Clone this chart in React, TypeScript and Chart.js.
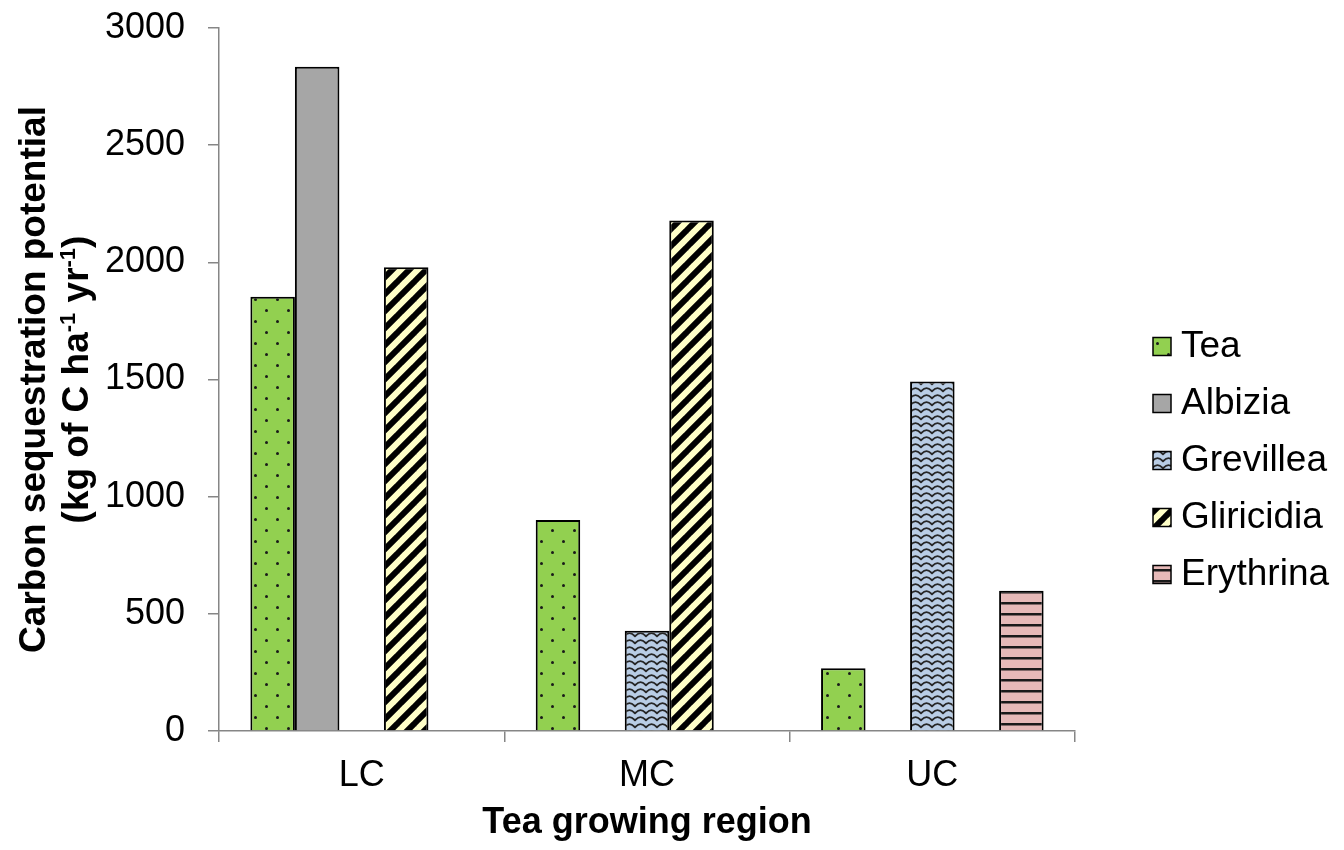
import { useEffect, useRef } from "react";
import { Chart, registerables } from "chart.js";

Chart.register(...registerables);

// Regions on the x axis and the carbon sequestration values (kg C / ha / yr) per shade species
const regions = ["LC", "MC", "UC"];
const seriesNames = ["Tea", "Albizia", "Grevillea", "Gliricidia", "Erythrina"];
const teaValues = [1853, 900, 268];
const albiziaValues = [2835, null, null];
const grevilleaValues = [null, 428, 1491];
const gliricidiaValues = [1979, 2178, null];
const erythrinaValues = [null, null, 598];
const yTickValues = [0, 500, 1000, 1500, 2000, 2500, 3000];

const FONT = "'Liberation Sans', Arial, Helvetica, sans-serif";
const AXIS_GREY = "#868686";

type Draw = (g: CanvasRenderingContext2D, w: number, h: number) => void;

function tile(w: number, h: number, draw: Draw): HTMLCanvasElement {
  const c = document.createElement("canvas");
  c.width = w;
  c.height = h;
  const g = c.getContext("2d") as CanvasRenderingContext2D;
  draw(g, w, h);
  return c;
}

function makePatterns(ctx: CanvasRenderingContext2D) {
  // green with staggered black dots
  const dots = tile(22, 22, (g, w, h) => {
    g.fillStyle = "#92D050";
    g.fillRect(0, 0, w, h);
    g.fillStyle = "#1a1a1a";
    for (const [x, y] of [[5.5, 5.5], [16.5, 16.5]]) {
      g.beginPath();
      g.arc(x, y, 1.5, 0, Math.PI * 2);
      g.fill();
    }
  });
  // light blue with dark zigzag waves
  const waves = tile(11, 7, (g, w, h) => {
    g.fillStyle = "#B9CDE5";
    g.fillRect(0, 0, w, h);
    g.strokeStyle = "#262626";
    g.lineWidth = 1.7;
    g.lineJoin = "round";
    g.beginPath();
    g.moveTo(-3, 5.8);
    g.lineTo(0, 5.4);
    g.quadraticCurveTo(5.5, -1.2, 11, 5.4);
    g.lineTo(14, 5.8);
    g.stroke();
  });
  // pale yellow with wide black "/" stripes
  const stripes = tile(17, 17, (g, w) => {
    g.fillStyle = "#FFFFC8";
    g.fillRect(0, 0, w, w);
    g.strokeStyle = "#000";
    g.lineWidth = 6;
    for (const k of [0, 1, 2]) {
      const c = k * w;
      g.beginPath();
      g.moveTo(c - w - 2, w + 2);
      g.lineTo(c + 2, -2);
      g.stroke();
    }
  });
  // pink with black horizontal lines
  const lines = tile(4, 11, (g, w, h) => {
    g.fillStyle = "#E6B9B8";
    g.fillRect(0, 0, w, h);
    g.fillStyle = "#1a1a1a";
    g.fillRect(0, 0, w, 2.5);
  });
  return {
    tea: ctx.createPattern(dots, "repeat") as CanvasPattern,
    albizia: "#A6A6A6",
    grevillea: ctx.createPattern(waves, "repeat") as CanvasPattern,
    gliricidia: ctx.createPattern(stripes, "repeat") as CanvasPattern,
    erythrina: ctx.createPattern(lines, "repeat") as CanvasPattern,
  };
}

// Two-line rotated y-axis title with superscripts
const yTitlePlugin = {
  id: "yTitle",
  afterDraw(chart: Chart) {
    const { ctx, chartArea } = chart;
    const cy = (chartArea.top + chartArea.bottom) / 2;
    ctx.save();
    ctx.fillStyle = "#000";
    ctx.textBaseline = "alphabetic";
    const big = `bold 37px ${FONT}`;
    const small = `bold 22px ${FONT}`;
    // first line
    ctx.save();
    ctx.translate(37, cy);
    ctx.rotate(-Math.PI / 2);
    ctx.font = big;
    ctx.textAlign = "center";
    ctx.fillText("Carbon sequestration potential", 0, 0);
    ctx.restore();
    // second line, with superscripts
    const parts: [string, boolean][] = [
      ["(kg of C ha", false],
      ["-1", true],
      [" yr", false],
      ["-1", true],
      [")", false],
    ];
    let total = 0;
    const widths = parts.map(([t, sup]) => {
      ctx.font = sup ? small : big;
      const w = ctx.measureText(t).width;
      total += w;
      return w;
    });
    ctx.save();
    ctx.translate(80, cy);
    ctx.rotate(-Math.PI / 2);
    ctx.textAlign = "left";
    let x = -total / 2;
    parts.forEach(([t, sup], i) => {
      ctx.font = sup ? small : big;
      ctx.fillText(t, x, sup ? -13 : 0);
      x += widths[i];
    });
    ctx.restore();
    ctx.restore();
  },
};

// Legend on the right, built from the datasets
const legendPlugin = {
  id: "sideLegend",
  afterDraw(chart: Chart) {
    const { ctx } = chart;
    ctx.save();
    chart.data.datasets.forEach((ds, i) => {
      const cy = 338.5 + i * 57;
      ctx.fillStyle = ds.backgroundColor as any;
      ctx.fillRect(1145, cy - 9, 18, 18);
      ctx.strokeStyle = "#000";
      ctx.lineWidth = 1.5;
      ctx.strokeRect(1145, cy - 9, 18, 18);
      ctx.fillStyle = "#000";
      ctx.font = `37px ${FONT}`;
      ctx.textAlign = "left";
      ctx.textBaseline = "middle";
      ctx.fillText(String(ds.label), 1173, cy);
    });
    ctx.restore();
  },
};

export default function App() {
  const canvasRef = useRef<HTMLCanvasElement | null>(null);

  useEffect(() => {
    const canvas = canvasRef.current;
    if (!canvas) return;
    const ctx = canvas.getContext("2d") as CanvasRenderingContext2D;
    const p = makePatterns(ctx);
    const fills = [p.tea, p.albizia, p.grevillea, p.gliricidia, p.erythrina];
    const values = [teaValues, albiziaValues, grevilleaValues, gliricidiaValues, erythrinaValues];

    const chart = new Chart(canvas, {
      type: "bar",
      data: {
        labels: regions,
        datasets: seriesNames.map((name, i) => ({
          label: name,
          data: values[i] as any,
          backgroundColor: fills[i] as any,
          borderColor: "#000",
          borderWidth: 2,
          categoryPercentage: 0.78,
          barPercentage: 1,
        })),
      },
      options: {
        responsive: false,
        animation: false,
        events: [],
        layout: { padding: { top: 20, right: 261, bottom: 0, left: 0 } },
        plugins: {
          legend: { display: false },
          tooltip: { enabled: false },
        },
        scales: {
          x: {
            grid: {
              display: true,
              drawOnChartArea: false,
              drawTicks: true,
              tickLength: 11,
              color: AXIS_GREY,
              lineWidth: 1.5,
              offset: true,
            },
            border: { display: true, color: AXIS_GREY, width: 1.5 },
            ticks: { color: "#000", font: { family: FONT, size: 36 }, padding: 12 },
            title: {
              display: true,
              text: "Tea growing region",
              color: "#000",
              font: { family: FONT, size: 36, weight: "bold", lineHeight: 1 },
              padding: { top: 0, bottom: 1 },
            },
            afterFit: (s: any) => {
              s.height = 111;
              s.paddingLeft = 0;
              s.paddingRight = 0;
            },
          },
          y: {
            min: 0,
            max: 3000,
            afterBuildTicks: (s: any) => {
              s.ticks = yTickValues.map((v) => ({ value: v }));
            },
            grid: {
              display: true,
              drawOnChartArea: false,
              drawTicks: true,
              tickLength: 11,
              color: AXIS_GREY,
              lineWidth: 1.5,
            },
            border: { display: true, color: AXIS_GREY, width: 1.5 },
            ticks: {
              color: "#000",
              font: { family: FONT, size: 36 },
              padding: 23,
              callback: (v: any) => String(v),
            },
            afterFit: (s: any) => {
              s.width = 211;
              s.paddingTop = 0;
              s.paddingBottom = 0;
            },
          },
        },
      },
      plugins: [yTitlePlugin, legendPlugin],
    } as any);

    return () => chart.destroy();
  }, []);

  return (
    <div style={{ width: 1328, height: 834 }}>
      <canvas ref={canvasRef} width={1328} height={834} style={{ display: "block" }} />
    </div>
  );
}
